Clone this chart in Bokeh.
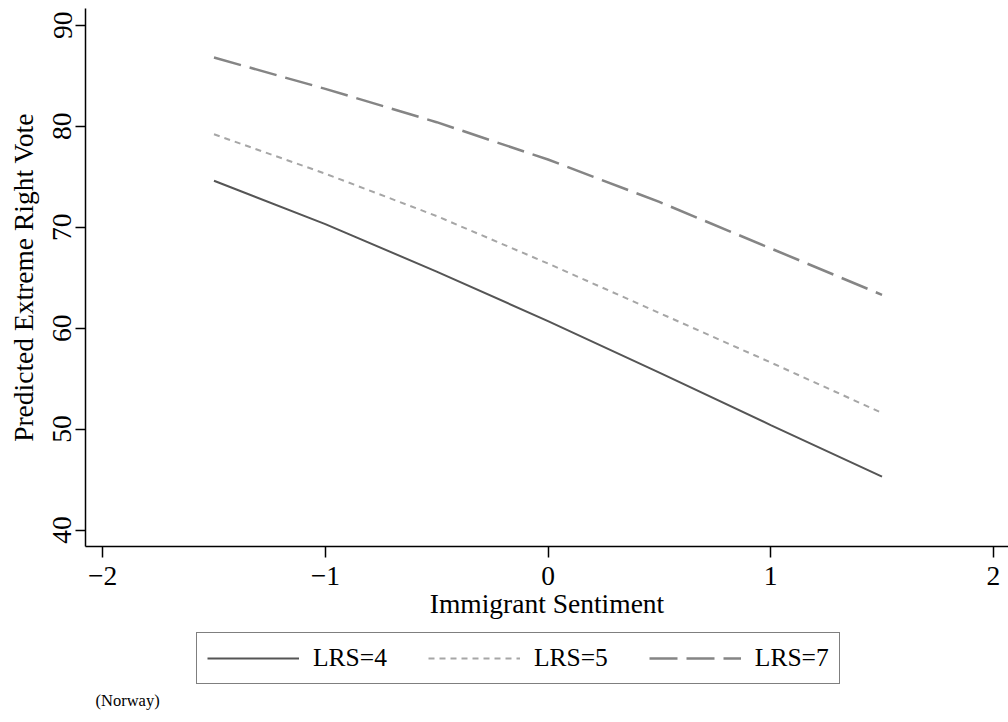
from bokeh.plotting import figure
from bokeh.layouts import column
from bokeh.models import Range1d, FixedTicker, Legend, LegendItem, Label
from bokeh.embed import file_html
from bokeh.resources import INLINE

# Data
x_vals = [-1.5, -1.0, -0.5, 0.0, 0.5, 1.0, 1.5]
lrs4 = [74.6, 70.3, 65.6, 60.7, 55.6, 50.4, 45.3]
lrs5 = [79.2, 75.3, 71.1, 66.4, 61.5, 56.6, 51.6]
lrs7 = [86.8, 83.7, 80.4, 76.7, 72.5, 67.9, 63.3]
series_labels = ["LRS=4", "LRS=5", "LRS=7"]

x_ticks = [-2, -1, 0, 1, 2]
x_tick_labels = ["\u22122", "\u22121", "0", "1", "2"]
y_ticks = [40, 50, 60, 70, 80, 90]

FONT = "Liberation Serif"
FS = "27.5px"
NAN = float("nan")

styles = [dict(line_color="#555555", line_width=2),
          dict(line_color="#a6a6a6", line_width=2, line_dash="6 5"),
          dict(line_color="#858585", line_width=2.5, line_dash="28 9")]

p = figure(frame_width=923, frame_height=538, output_backend="svg", toolbar_location=None,
           x_range=Range1d(-2.077, 2.068), y_range=Range1d(38.37, 91.66),
           min_border_left=85, min_border_right=0, min_border_top=8,
           min_border_bottom=80)
p.outline_line_color = None
p.grid.visible = False
p.background_fill_color = "white"
p.border_fill_color = "white"

for ys, st in zip([lrs4, lrs5, lrs7], styles):
    p.line(x_vals, ys, **st)

# X axis
xa = p.xaxis[0]
xa.ticker = FixedTicker(ticks=x_ticks)
xa.major_label_overrides = {t: l for t, l in zip(x_ticks, x_tick_labels)}
xa.axis_label = "Immigrant Sentiment"
xa.axis_line_width = 1.5
xa.major_tick_line_width = 1.5
xa.major_tick_out = 11
xa.major_tick_in = 0
xa.minor_tick_line_color = None
xa.major_label_standoff = 9
xa.axis_label_standoff = 0
xa.major_label_text_font = FONT
xa.major_label_text_font_size = FS
xa.major_label_text_color = "black"
xa.axis_label_text_font = FONT
xa.axis_label_text_font_size = FS
xa.axis_label_text_font_style = "normal"
xa.axis_label_text_color = "black"

# Y axis
ya = p.yaxis[0]
ya.ticker = FixedTicker(ticks=y_ticks)
ya.axis_label = "Predicted Extreme Right Vote"
ya.axis_line_width = 1.5
ya.major_tick_line_width = 1.5
ya.major_tick_out = 10
ya.major_tick_in = 0
ya.minor_tick_line_color = None
ya.major_label_orientation = "vertical"
ya.major_label_standoff = 4
ya.axis_label_standoff = 12
ya.major_label_text_font = FONT
ya.major_label_text_font_size = FS
ya.major_label_text_color = "black"
ya.axis_label_text_font = FONT
ya.axis_label_text_font_size = FS
ya.axis_label_text_font_style = "normal"
ya.axis_label_text_color = "black"

# Legend strip and note, below the plot (frame aligned with the plot above)
p2 = figure(width=1008, height=90, output_backend="svg", toolbar_location=None,
            x_range=Range1d(0, 1), y_range=Range1d(0, 1),
            x_axis_location=None, y_axis_location=None,
            min_border_left=0, min_border_right=0, min_border_top=0, min_border_bottom=0)
p2.outline_line_color = None
p2.grid.visible = False
p2.background_fill_color = "white"
p2.border_fill_color = "white"

items = []
for lab, st in zip(series_labels, styles):
    r = p2.line([NAN, NAN], [NAN, NAN], **st)
    items.append(LegendItem(label=lab, renderers=[r]))

legend = Legend(items=items, orientation="horizontal", location=(111, 32),
                border_line_color="black", border_line_width=1.5,
                label_text_font=FONT, label_text_font_size="25.5px",
                label_text_color="black",
                glyph_width=92, glyph_height=26, label_standoff=14,
                spacing=41, padding=10, margin=0,
                background_fill_color="white")
p2.add_layout(legend, "center")

note = Label(x=10, y=16, x_units="screen", y_units="screen", text="(Norway)",
             text_font=FONT, text_font_size="16.5px", text_color="black",
             text_baseline="middle", text_align="left")
p2.add_layout(note)

layout = column(p, p2, spacing=0)
open("out.html", "w").write(file_html(layout, INLINE))
